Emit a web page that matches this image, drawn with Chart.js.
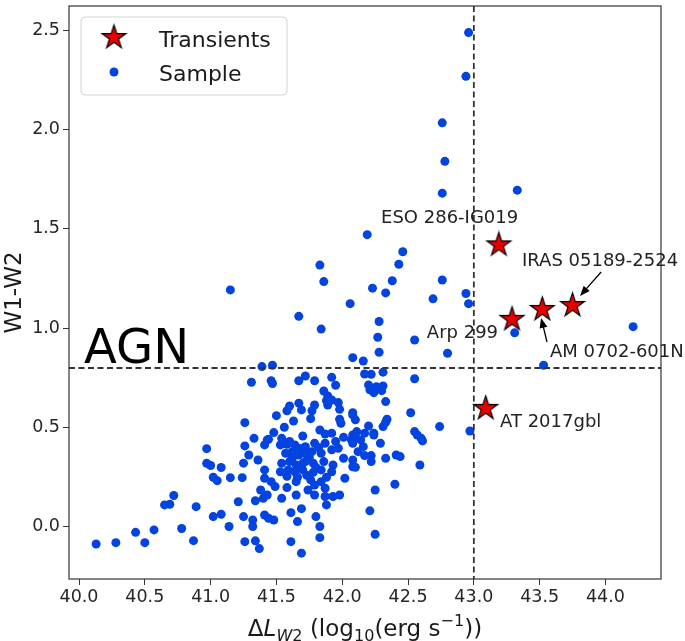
<!DOCTYPE html>
<html>
<head>
<meta charset="utf-8">
<script src="https://cdn.jsdelivr.net/npm/chart.js@4.4.1/dist/chart.umd.min.js"></script>
<style>
  html, body { margin: 0; padding: 0; background: #fff; }
  #wrap { width: 685px; height: 641px; }
</style>
</head>
<body>
<div id="wrap"><canvas id="chart" width="685" height="641"></canvas></div>
<script>
// sample galaxies: delta L_W2 (log erg/s) and W1-W2 colour
const sampleX = [
  42.96, 42.94, 42.76, 42.78, 42.76, 43.33, 42.19, 42.46, 42.43, 42.38, 42.23, 42.33, 42.76,
  42.06, 42.94, 42.69, 42.96, 42.28, 41.83, 41.86, 41.15, 41.67, 41.84, 43.31, 43.53, 44.21,
  42.08, 42.27, 42.55, 42.28, 42.80, 42.16, 41.39, 41.47, 41.31, 41.46, 41.47, 41.67, 41.72,
  41.79, 41.92, 41.95, 41.86, 41.89, 41.88, 41.92, 41.97, 41.89, 41.98, 41.67, 41.60, 41.58,
  41.69, 41.79, 41.77, 41.76, 41.63, 41.50, 41.26, 41.56, 41.98, 41.99, 42.08, 41.33, 41.48,
  41.44, 41.54, 41.70, 41.83, 41.87, 41.92, 42.01, 42.08, 42.17, 42.22, 42.31, 42.55, 42.20,
  42.21, 42.26, 42.31, 42.24, 42.30, 42.33, 42.08, 42.10, 42.52, 42.34, 42.33, 42.20, 42.31,
  42.74, 42.55, 42.11, 42.17, 42.24, 42.97, 42.60,
  41.43, 41.26, 41.41, 41.53, 41.58, 41.64, 41.72, 41.79, 41.87, 41.95, 42.07, 41.29, 41.36,
  41.25, 41.57, 41.62, 41.67, 41.72, 41.77, 41.84, 41.92, 41.97, 42.01, 42.08, 41.54, 41.60,
  41.65, 41.72, 41.78, 41.86, 41.93, 41.41, 41.53, 41.59, 41.64, 41.70, 41.84, 41.92, 41.15,
  41.24, 41.41, 41.46, 41.49, 41.58, 41.65, 41.76, 41.79, 41.84, 41.87, 41.74, 42.02, 42.08,
  41.38, 41.40, 41.43, 41.34, 41.21, 41.54, 41.65, 41.79, 41.87, 41.93, 41.98, 41.88, 41.69,
  41.61, 41.41, 41.44, 41.48, 41.25, 41.32, 41.32, 41.14, 41.80, 41.66, 41.83, 41.83, 41.26,
  41.34, 41.37, 41.61, 41.69,
  42.10, 42.14, 42.08, 42.16, 42.12, 42.17, 42.22, 42.22, 42.24, 42.29, 42.33, 42.41, 42.44,
  42.57, 42.61, 42.59, 42.10, 42.40, 42.25, 42.21, 42.25,
  40.13, 40.28, 40.43, 40.50, 40.57, 40.78, 40.87, 40.65, 40.69, 40.72, 40.89, 40.97, 40.97,
  41.00, 41.08, 41.02, 41.08, 41.02, 41.05,
  41.68, 41.75, 41.62, 41.80, 41.70, 41.66, 41.73, 41.78, 41.58, 41.88, 41.82, 41.60
];
const sampleY = [
  2.488, 2.268, 2.034, 1.840, 1.680, 1.695, 1.471, 1.385, 1.322, 1.239, 1.202, 1.178, 1.243,
  1.124, 1.175, 1.148, 1.124, 1.034, 1.318, 1.235, 1.193, 1.060, 0.996, 0.977, 0.814, 1.008,
  0.852, 0.955, 0.941, 0.879, 0.874, 0.835, 0.807, 0.814, 0.728, 0.736, 0.722, 0.736, 0.760,
  0.736, 0.753, 0.713, 0.684, 0.659, 0.636, 0.639, 0.626, 0.614, 0.592, 0.623, 0.609, 0.585,
  0.589, 0.614, 0.585, 0.545, 0.533, 0.560, 0.525, 0.502, 0.542, 0.522, 0.564, 0.446, 0.475,
  0.441, 0.446, 0.458, 0.488, 0.468, 0.472, 0.451, 0.463, 0.770, 0.768, 0.779, 0.746, 0.715,
  0.690, 0.706, 0.710, 0.676, 0.686, 0.631, 0.575, 0.539, 0.575, 0.542, 0.527, 0.508, 0.505,
  0.505, 0.480, 0.480, 0.472, 0.472, 0.483, 0.446,
  0.438, 0.408, 0.413, 0.413, 0.416, 0.413, 0.404, 0.421, 0.421, 0.430, 0.438, 0.362, 0.337,
  0.321, 0.371, 0.379, 0.362, 0.371, 0.379, 0.371, 0.388, 0.396, 0.346, 0.337, 0.321, 0.329,
  0.312, 0.329, 0.321, 0.329, 0.312, 0.287, 0.278, 0.287, 0.278, 0.287, 0.287, 0.278, 0.248,
  0.248, 0.245, 0.228, 0.203, 0.198, 0.228, 0.237, 0.211, 0.228, 0.195, 0.186, 0.245, 0.303,
  0.186, 0.144, 0.161, 0.132, 0.127, 0.144, 0.161, 0.161, 0.153, 0.153, 0.161, 0.111, 0.092,
  0.072, 0.060, 0.044, 0.035, 0.052, 0.035, 0.002, 0.002, 0.052, 0.027, 0.002, -0.054, -0.074,
  -0.070, -0.109, -0.074, -0.132,
  0.454, 0.438, 0.421, 0.404, 0.379, 0.359, 0.359, 0.329, 0.463, 0.421, 0.346, 0.362, 0.354,
  0.463, 0.433, 0.312, 0.300, 0.215, 0.186, 0.081, -0.037,
  -0.086, -0.079, -0.027, -0.079, -0.015, -0.008, -0.069, 0.111, 0.114, 0.158, 0.102, 0.394, 0.320,
  0.309, 0.299, 0.052, 0.064, 0.250, 0.233,
  0.395, 0.350, 0.345, 0.300, 0.320, 0.250, 0.260, 0.275, 0.255, 0.250, 0.400, 0.430
];

// transients
const transientNames = ["ESO 286-IG019", "IRAS 05189-2524", "Arp 299", "AM 0702-601N", "AT 2017gbl"];
const transientX = [43.19, 43.75, 43.29, 43.52, 43.09];
const transientY = [1.42, 1.115, 1.045, 1.095, 0.597];

const xTicks = [40.0, 40.5, 41.0, 41.5, 42.0, 42.5, 43.0, 43.5, 44.0];
const yTicks = [0.0, 0.5, 1.0, 1.5, 2.0, 2.5];

// AGN selection cuts
const cutX = 43.0;
const cutY = 0.8;

const FONT = '"DejaVu Sans", sans-serif';
Chart.defaults.font.family = FONT;

// label positions in data units: [text x, text y, align, arrow tail x, tail y, tip x, tip y]
const labelPos = [
  [42.295, 1.555, "left"],
  [43.366, 1.339, "left", 43.967, 1.283, 43.807, 1.163],
  [43.184, 0.976, "right"],
  [43.579, 0.881, "left", 43.556, 0.931, 43.511, 1.052],
  [43.199, 0.528, "left"]
];

function makeStar(r) {
  const size = Math.ceil(r * 2 + 4);
  const c = document.createElement("canvas");
  c.width = size;
  c.height = size;
  const g = c.getContext("2d");
  const cx = size / 2, cy = size / 2;
  g.beginPath();
  for (let i = 0; i < 10; i++) {
    const rad = i % 2 ? r * 0.382 : r;
    const a = -Math.PI / 2 + i * Math.PI / 5;
    g.lineTo(cx + rad * Math.cos(a), cy + rad * Math.sin(a));
  }
  g.closePath();
  g.fillStyle = "#e60000";
  g.fill();
  g.lineWidth = 1.2;
  g.strokeStyle = "#000";
  g.stroke();
  return c;
}
const starImg = makeStar(12.5);

function drawArrow(ctx, x1, y1, x2, y2) {
  const ang = Math.atan2(y2 - y1, x2 - x1), hl = 10, hw = 4;
  ctx.beginPath();
  ctx.moveTo(x1, y1);
  ctx.lineTo(x2 - hl * 0.8 * Math.cos(ang), y2 - hl * 0.8 * Math.sin(ang));
  ctx.stroke();
  ctx.beginPath();
  ctx.moveTo(x2, y2);
  ctx.lineTo(x2 - hl * Math.cos(ang) + hw * Math.sin(ang), y2 - hl * Math.sin(ang) - hw * Math.cos(ang));
  ctx.lineTo(x2 - hl * Math.cos(ang) - hw * Math.sin(ang), y2 - hl * Math.sin(ang) + hw * Math.cos(ang));
  ctx.closePath();
  ctx.fill();
}

// x-axis title with sub/superscripts
function drawXTitle(ctx, cx, base) {
  const fs = 23, ss = fs * 0.7;
  const parts = [
    ["Δ", fs, "", 0],
    ["L", fs, "italic ", 0],
    ["W", ss, "italic ", 0.22],
    ["2", ss, "", 0.22],
    [" (log", fs, "", 0],
    ["10", ss, "", 0.22],
    ["(erg s", fs, "", 0],
    ["\u22121", ss, "", -0.42],
    ["))", fs, "", 0]
  ];
  let w = 0;
  parts.forEach(p => { ctx.font = p[2] + p[1] + "px " + FONT; w += ctx.measureText(p[0]).width; });
  let x = cx - w / 2;
  ctx.textAlign = "left";
  ctx.textBaseline = "alphabetic";
  parts.forEach(p => {
    ctx.font = p[2] + p[1] + "px " + FONT;
    ctx.fillText(p[0], x, base + p[3] * fs);
    x += ctx.measureText(p[0]).width;
  });
}

const decor = {
  id: "decor",
  afterDatasetDraw(chart, args) {
    if (args.index !== 1) return;
    const { ctx, chartArea: a, scales: { x, y } } = chart;
    const px = x.getPixelForValue(cutX), py = y.getPixelForValue(cutY);
    ctx.save();
    ctx.strokeStyle = "#333";
    ctx.lineWidth = 1.8;
    ctx.setLineDash([6, 3.5]);
    ctx.beginPath();
    ctx.moveTo(px, a.top);
    ctx.lineTo(px, a.bottom);
    ctx.moveTo(a.left, py);
    ctx.lineTo(a.right, py);
    ctx.stroke();
    ctx.restore();
  },
  afterDraw(chart) {
    const { ctx, chartArea: a, scales: { x, y } } = chart;
    ctx.save();
    // frame
    ctx.strokeStyle = "#333";
    ctx.lineWidth = 1.2;
    ctx.strokeRect(a.left, a.top, a.right - a.left, a.bottom - a.top);

    // AGN region label
    ctx.fillStyle = "#000";
    ctx.font = "48px " + FONT;
    ctx.textAlign = "left";
    ctx.textBaseline = "alphabetic";
    ctx.fillText("AGN", x.getPixelForValue(40.038), y.getPixelForValue(0.825));

    // transient names
    ctx.fillStyle = "#222";
    ctx.strokeStyle = "#000";
    ctx.lineWidth = 1.3;
    ctx.font = "18px " + FONT;
    ctx.textBaseline = "middle";
    transientNames.forEach((name, i) => {
      const p = labelPos[i];
      ctx.textAlign = p[2];
      ctx.fillText(name, x.getPixelForValue(p[0]), y.getPixelForValue(p[1]));
      if (p.length > 3) {
        ctx.fillStyle = "#000";
        drawArrow(ctx, x.getPixelForValue(p[3]), y.getPixelForValue(p[4]),
          x.getPixelForValue(p[5]), y.getPixelForValue(p[6]));
        ctx.fillStyle = "#222";
      }
    });

    // legend
    const lx = a.left + 12, ly = a.top + 11, lw = 206, lh = 78;
    ctx.beginPath();
    ctx.roundRect(lx, ly, lw, lh, 4);
    ctx.fillStyle = "rgba(255,255,255,0.8)";
    ctx.fill();
    ctx.strokeStyle = "#d4d4d4";
    ctx.lineWidth = 1;
    ctx.stroke();
    ctx.drawImage(starImg, a.left + 45 - starImg.width / 2, a.top + 31.5 - starImg.height / 2);
    ctx.beginPath();
    ctx.arc(a.left + 45, a.top + 66, 4.5, 0, Math.PI * 2);
    ctx.fillStyle = "#0343df";
    ctx.fill();
    ctx.fillStyle = "#1a1a1a";
    ctx.font = "22px " + FONT;
    ctx.textAlign = "left";
    ctx.textBaseline = "alphabetic";
    ctx.fillText("Transients", a.left + 90, a.top + 41);
    ctx.fillText("Sample", a.left + 90, a.top + 75);

    // x title
    drawXTitle(ctx, (a.left + a.right) / 2, 636);
    ctx.restore();
  }
};

const tickFont = { size: 17.5, family: FONT };
const gridOpts = { drawOnChartArea: false, drawTicks: true, tickLength: 6, color: "#333", lineWidth: 1 };

// keep the plot frame where the reference has it
function fixX(s) { s.height = 62; s.paddingLeft = 0; s.paddingRight = 0; }
function fixY(s) { s.width = 69; s.paddingTop = 0; s.paddingBottom = 0; }

new Chart(document.getElementById("chart"), {
  type: "scatter",
  data: {
    datasets: [
      {
        label: "Transients",
        data: transientX.map((v, i) => ({ x: v, y: transientY[i] })),
        pointStyle: starImg,
        pointRadius: 12
      },
      {
        label: "Sample",
        data: sampleX.map((v, i) => ({ x: v, y: sampleY[i] })),
        pointStyle: "circle",
        pointRadius: 4.5,
        backgroundColor: "#0343df",
        borderWidth: 0
      }
    ]
  },
  options: {
    responsive: false,
    animation: false,
    events: [],
    layout: { autoPadding: false, padding: { left: 0, right: 24, top: 6, bottom: 0 } },
    plugins: { legend: { display: false }, tooltip: { enabled: false } },
    scales: {
      x: {
        type: "linear",
        min: 39.924,
        max: 44.422,
        afterBuildTicks: s => { s.ticks = xTicks.map(v => ({ value: v })); },
        afterFit: fixX,
        ticks: { font: tickFont, color: "#262626", padding: 2, maxRotation: 0, callback: v => v.toFixed(1) },
        grid: gridOpts,
        border: { display: false }
      },
      y: {
        type: "linear",
        min: -0.262,
        max: 2.622,
        afterBuildTicks: s => { s.ticks = yTicks.map(v => ({ value: v })); },
        afterFit: fixY,
        ticks: { font: tickFont, color: "#262626", padding: 3, callback: v => v.toFixed(1) },
        grid: gridOpts,
        border: { display: false },
        title: { display: true, text: "W1-W2", font: { size: 23, family: FONT }, color: "#1a1a1a", padding: { top: 1, bottom: 0 } }
      }
    }
  },
  plugins: [decor]
});
</script>
</body>
</html>
